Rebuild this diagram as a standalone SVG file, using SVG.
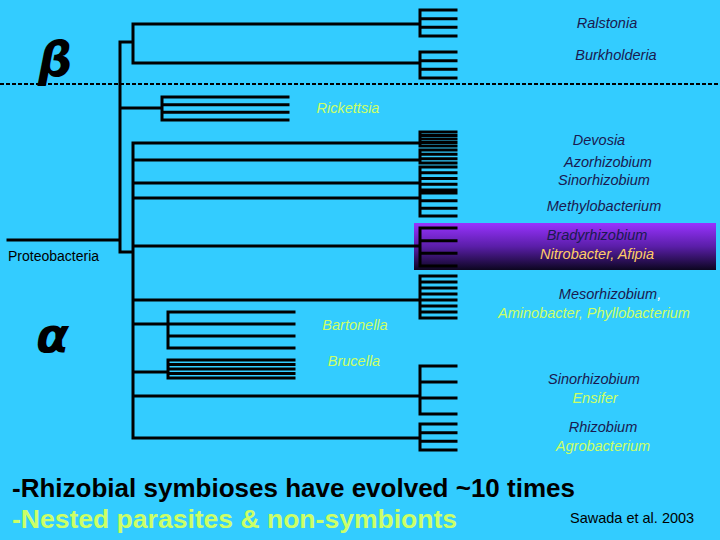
<svg xmlns="http://www.w3.org/2000/svg" width="720" height="540" viewBox="0 0 720 540">
<defs>
<linearGradient id="pg" x1="0" y1="0" x2="0" y2="1"><stop offset="0" stop-color="#9933ff"/><stop offset="0.5" stop-color="#5a1ea8"/><stop offset="1" stop-color="#0c0620"/></linearGradient>
</defs>
<style>
.t{fill:none;stroke:#000;stroke-width:3;stroke-linecap:square}
.l{font-family:"Liberation Sans",Arial,sans-serif;font-size:14.5px;font-style:italic;text-anchor:middle}
.n{fill:#1a1a50}.g{fill:#ccff66}.y{fill:#ffcc66}
.big{font-family:"Liberation Sans Narrow","Liberation Sans",Arial,sans-serif;font-weight:bold;font-size:25px}
.gr{font-family:"DejaVu Sans","Liberation Sans",sans-serif;font-weight:bold;font-style:italic;font-size:48px;fill:#000}
</style>
<rect width="720" height="540" fill="#33ccff"/>
<rect id="highlight" x="414" y="223" width="302" height="47" fill="url(#pg)"/>
<line x1="0" y1="84" x2="720" y2="84" stroke="#000" stroke-width="2" stroke-dasharray="4,2"/>
<text class="gr" x="38" y="76">β</text>
<text class="gr" x="36" y="352">α</text>
<g id="connectors">
<path class="t" d="M8 240H120M120 42V252M120 42H133M133 24V63M133 24H420M133 63H420
M420 10V36M420 10H456M420 18.7H456M420 27.3H456M420 36H456
M420 52V78M420 52H456M420 60.7H456M420 69.3H456M420 78H456
M120 108H162M162 97V120M162 97H288M162 104.7H288M162 112.3H288M162 120H288
M120 252H133M133 143V438
M133 143H420M420 132V146M420 132H456M420 135.5H456M420 139H456M420 142.5H456M420 146H456
M133 160H420M420 150V163M420 150H456M420 154.3H456M420 158.7H456M420 163H456
M133 183H420M420 167V190M420 167H456M420 172.8H456M420 178.5H456M420 184.3H456M420 190H456
M133 198H420M420 193V216M420 193H456M420 200.7H456M420 208.3H456M420 216H456
M133 246H420M420 228V266M420 228H456M420 240.7H456M420 253.3H456M420 266H456
M133 300H420M420 276V318M420 276H456M420 282H456M420 288H456M420 294H456M420 300H456M420 306H456M420 312H456M420 318H456
M133 324H168M168 312V348M168 312H294M168 324H294M168 336H294M168 348H294
M133 372H168M168 360V378M168 360H294M168 364.5H294M168 369H294M168 373.5H294M168 378H294
M133 396H420M420 366V414M420 366H456M420 382H456M420 398H456M420 414H456
M133 438H420M420 424V450M420 424H456M420 432.7H456M420 441.3H456M420 450H456"/>
</g>
<g id="labels">
<text class="l n" x="607" y="28">Ralstonia</text>
<text class="l n" x="616" y="60">Burkholderia</text>
<text class="l g" x="348" y="113">Rickettsia</text>
<text class="l n" x="599" y="145">Devosia</text>
<text class="l n" x="608" y="167">Azorhizobium</text>
<text class="l n" x="604" y="185">Sinorhizobium</text>
<text class="l n" x="604" y="211">Methylobacterium</text>
<text class="l n" x="597" y="240">Bradyrhizobium</text>
<text class="l y" x="597" y="259">Nitrobacter, Afipia</text>
<text class="l n" x="610" y="299">Mesorhizobium<tspan fill="#ffffff">,</tspan></text>
<text class="l g" x="594" y="318">Aminobacter, Phyllobacterium</text>
<text class="l g" x="355" y="330">Bartonella</text>
<text class="l g" x="354" y="366">Brucella</text>
<text class="l n" x="594" y="384">Sinorhizobium</text>
<text class="l g" x="595" y="403">Ensifer</text>
<text class="l n" x="603" y="432">Rhizobium</text>
<text class="l g" x="603" y="451">Agrobacterium</text>
<text x="8" y="261" font-family="Liberation Sans,Arial,sans-serif" font-size="14" fill="#000">Proteobacteria</text>
<text x="570" y="523" font-family="Liberation Sans,Arial,sans-serif" font-size="14.5" fill="#000">Sawada et al. 2003</text>
<text class="big" x="12" y="497" fill="#000" textLength="563" lengthAdjust="spacingAndGlyphs">-Rhizobial symbioses have evolved ~10 times</text>
<text class="big" x="12" y="528" fill="#ccff66" textLength="445" lengthAdjust="spacingAndGlyphs">-Nested  parasites &amp; non-symbionts</text>
</g>
</svg>
